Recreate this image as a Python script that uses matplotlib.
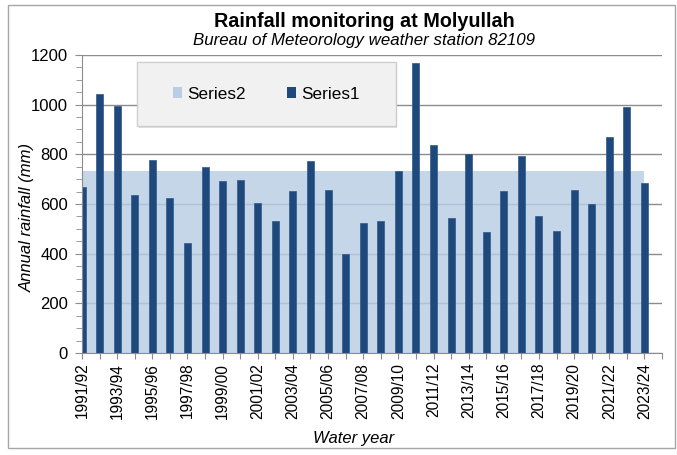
import matplotlib
matplotlib.use("Agg")
import matplotlib.pyplot as plt
from matplotlib.patches import Patch, Rectangle
from matplotlib.ticker import MultipleLocator

plt.rcParams['font.family'] = ['Liberation Sans', 'DejaVu Sans']

# Water years 1991/92 .. 2023/24
years = ["1991/92", "1992/93", "1993/94", "1994/95", "1995/96", "1996/97",
         "1997/98", "1998/99", "1999/00", "2000/01", "2001/02", "2002/03",
         "2003/04", "2004/05", "2005/06", "2006/07", "2007/08", "2008/09",
         "2009/10", "2010/11", "2011/12", "2012/13", "2013/14", "2014/15",
         "2015/16", "2016/17", "2017/18", "2018/19", "2019/20", "2020/21",
         "2021/22", "2022/23", "2023/24"]

# Series1 = annual rainfall (mm)
series1 = [670, 1043, 995, 637, 776, 623, 441, 750, 692, 697, 605, 531,
           653, 772, 658, 397, 523, 532, 732, 1167, 837, 542, 803, 487,
           653, 792, 552, 492, 656, 598, 869, 991, 683]

# Series2 = long-term average shown as shaded area
series2 = [732] * len(years)

bar_col = '#1f497d'
area_col = '#b9cde5'
grid_col = '#8c8c8c'

fig = plt.figure(figsize=(6.77, 4.55), dpi=100)
ax = fig.add_axes([82 / 677, 1 - 353 / 455, 580 / 677, 298 / 455])

idx = list(range(len(years)))

ax.set_axisbelow(True)
ax.yaxis.grid(True, color=grid_col, linewidth=1.0, zorder=0)
ax.fill_between(idx, series2, 0, color=area_col, alpha=0.82, linewidth=0, zorder=1)
ax.bar(idx, series1, width=0.4, color=bar_col, edgecolor='#2d5a8c', linewidth=0.5, zorder=2)

ax.set_xlim(0, len(years))
ax.set_ylim(0, 1200)
ax.yaxis.set_major_locator(MultipleLocator(200))
ax.yaxis.set_minor_locator(MultipleLocator(50))

ax.set_xticks(list(range(len(years) + 1)))
labels = [y if i % 2 == 0 else '' for i, y in enumerate(years)] + ['']
ax.set_xticklabels(labels, rotation=90, fontsize=11.2)
ax.tick_params(axis='x', length=4, color=grid_col, pad=3)
ax.tick_params(axis='y', which='major', length=5, color=grid_col, labelsize=12, pad=5)
ax.tick_params(axis='y', which='minor', length=4, color=grid_col)

for s in ['top', 'right']:
    ax.spines[s].set_visible(False)
for s in ['left', 'bottom']:
    ax.spines[s].set_color(grid_col)

# legend box (semi transparent, with faint shadow)
ax.add_patch(Rectangle((0.0975, 0.755), 0.446, 0.215, transform=ax.transAxes,
                       facecolor='#e2e2e2', edgecolor='none', zorder=3))
ax.add_patch(Rectangle((0.0948, 0.762), 0.446, 0.215, transform=ax.transAxes,
                       facecolor='#f4f4f4', edgecolor='#c8c8c8', linewidth=1,
                       alpha=0.88, zorder=4))
handles = [Patch(facecolor=area_col, edgecolor='none', label='Series2'),
           Patch(facecolor=bar_col, edgecolor='none', label='Series1')]
leg = ax.legend(handles=handles, ncol=2, loc='center', bbox_to_anchor=(0.318, 0.869),
                frameon=False, fontsize=12.3, handlelength=0.55, handleheight=0.55,
                handletextpad=0.3, columnspacing=2.4)
leg.set_zorder(5)

fig.text(364 / 677, 1 - 27 / 455, 'Rainfall monitoring at Molyullah', ha='center',
         va='baseline', fontsize=14.2, fontweight='bold')
fig.text(364 / 677, 1 - 45 / 455, 'Bureau of Meteorology weather station 82109',
         ha='center', va='baseline', fontsize=12.2, style='italic')
fig.text(27 / 677, 1 - 217 / 455, 'Annual rainfall (mm)', rotation=90, ha='center',
         va='center', fontsize=12, style='italic')
fig.text(354 / 677, 1 - 439 / 455, 'Water year', ha='center', va='center',
         fontsize=12, style='italic')

# outer chart frame
fig.add_artist(Rectangle((8 / 677, 1 - 448 / 455), 667 / 677, 443 / 455,
                         transform=fig.transFigure, fill=False,
                         edgecolor='#a6a6a6', linewidth=1))

fig.savefig('out.png', dpi=100)
